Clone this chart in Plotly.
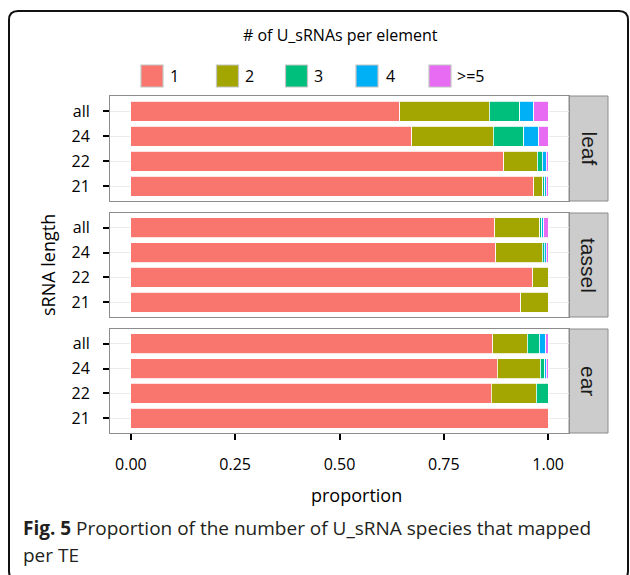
import plotly.graph_objects as go

W, H = 630, 575

facets = ["leaf", "tassel", "ear"]
lengths = ["21", "22", "24", "all"]
groups = ["1", "2", "3", "4", ">=5"]
colors = ["#F8766D", "#A3A500", "#00BF7D", "#00B0F6", "#E76BF3"]

# proportions per group, ordered as lengths (21, 22, 24, all)
leaf_g1 = [0.966, 0.894, 0.673, 0.644]
leaf_g2 = [0.021, 0.080, 0.196, 0.215]
leaf_g3 = [0.005, 0.012, 0.072, 0.073]
leaf_g4 = [0.004, 0.010, 0.036, 0.034]
leaf_g5 = [0.004, 0.004, 0.023, 0.034]

tassel_g1 = [0.934, 0.963, 0.874, 0.872]
tassel_g2 = [0.066, 0.037, 0.112, 0.108]
tassel_g3 = [None, None, 0.005, 0.005]
tassel_g4 = [None, None, 0.004, 0.005]
tassel_g5 = [None, None, 0.005, 0.010]

ear_g1 = [1.000, 0.864, 0.878, 0.867]
ear_g2 = [None, 0.107, 0.103, 0.083]
ear_g3 = [None, 0.029, 0.011, 0.029]
ear_g4 = [None, None, 0.004, 0.015]
ear_g5 = [None, None, 0.004, 0.006]

facet_data = {
    "leaf": [leaf_g1, leaf_g2, leaf_g3, leaf_g4, leaf_g5],
    "tassel": [tassel_g1, tassel_g2, tassel_g3, tassel_g4, tassel_g5],
    "ear": [ear_g1, ear_g2, ear_g3, ear_g4, ear_g5],
}

x_ticks = [0, 0.25, 0.5, 0.75, 1.0]
x_ticktext = ["0.00", "0.25", "0.50", "0.75", "1.00"]

FONT = "Open Sans"


def px(x):
    return x / W


def py(y):
    return 1 - y / H


panel_x = (110, 569)
strip_x = (569, 608)
panel_y = [(96, 201), (213, 317), (329, 433)]

fig = go.Figure()

for i, f in enumerate(facets):
    ax = "" if i == 0 else str(i + 1)
    for g, c, vals in zip(groups, colors, facet_data[f]):
        fig.add_trace(go.Bar(
            x=vals, y=lengths, orientation="h", name=g,
            marker=dict(color=c, line=dict(color="white", width=0.8)),
            xaxis="x" + ax, yaxis="y" + ax, showlegend=False,
        ))
    y0, y1 = panel_y[i]
    bottom = (i == len(facets) - 1)
    fig.layout["xaxis" + ax] = dict(
        domain=[px(panel_x[0]), px(panel_x[1])], anchor="y" + ax,
        range=[-0.05, 1.05], showgrid=False, zeroline=False,
        showline=True, mirror=True, linecolor="#8c8c8c", linewidth=1,
        tickvals=x_ticks, ticktext=x_ticktext,
        showticklabels=bottom, ticks="outside" if bottom else "",
        ticklen=6, tickwidth=1.5, tickcolor="black",
        tickfont=dict(family=FONT, size=16, color="black"),
        ticklabelstandoff=11,
    )
    fig.layout["yaxis" + ax] = dict(
        domain=[py(y1), py(y0)], anchor="x" + ax,
        type="category", categoryorder="array", categoryarray=lengths,
        range=[-0.6, 3.6], showgrid=True, gridcolor="#ebebeb", gridwidth=1,
        showline=True, mirror=True, linecolor="#8c8c8c", linewidth=1,
        ticks="outside", ticklen=6, tickwidth=1.5, tickcolor="black",
        tickfont=dict(family=FONT, size=16, color="black"),
        ticklabelstandoff=10,
    )

shapes = []
annotations = []

# facet strips
for i, f in enumerate(facets):
    y0, y1 = panel_y[i]
    shapes.append(dict(type="rect", xref="paper", yref="paper",
                       x0=px(strip_x[0]), x1=px(strip_x[1]), y0=py(y1), y1=py(y0),
                       fillcolor="#cccccc", line=dict(color="#8c8c8c", width=1), layer="below"))
    annotations.append(dict(xref="paper", yref="paper", x=px(589), y=py((y0 + y1) / 2),
                            text=f, textangle=90, showarrow=False,
                            font=dict(family="Liberation Sans", size=21, color="#1a1a1a"),
                            xanchor="center", yanchor="middle"))

# legend (manual)
annotations.append(dict(xref="paper", yref="paper", x=px(340), y=py(35),
                        text="# of U_sRNAs per element", showarrow=False,
                        font=dict(family=FONT, size=16, color="black"),
                        xanchor="center", yanchor="middle"))
key_x = [141, 216.5, 285.5, 356, 429]
label_x = [168, 243, 312, 384, 455]
for g, c, kx, lx in zip(groups, colors, key_x, label_x):
    shapes.append(dict(type="rect", xref="paper", yref="paper",
                       x0=px(kx), x1=px(kx + 22), y0=py(87), y1=py(65),
                       fillcolor=c, line=dict(color="#c4c4c4", width=1.2)))
    annotations.append(dict(xref="paper", yref="paper", x=px(lx), y=py(76),
                            text=g, showarrow=False,
                            font=dict(family=FONT, size=16, color="black"),
                            xanchor="left", yanchor="middle"))

# axis titles
annotations.append(dict(xref="paper", yref="paper", x=px(48), y=py(265),
                        text="sRNA length", textangle=-90, showarrow=False,
                        font=dict(family=FONT, size=18, color="black"),
                        xanchor="center", yanchor="middle"))
annotations.append(dict(xref="paper", yref="paper", x=px(356), y=py(495),
                        text="proportion", showarrow=False,
                        font=dict(family=FONT, size=18, color="black"),
                        xanchor="center", yanchor="middle"))

# caption
annotations.append(dict(xref="paper", yref="paper", x=px(21), y=py(528),
                        text="<b>Fig. 5</b> Proportion of the number of U_sRNA species that mapped",
                        showarrow=False, font=dict(family=FONT, size=19, color="#231f20"),
                        xanchor="left", yanchor="middle"))
annotations.append(dict(xref="paper", yref="paper", x=px(21), y=py(555),
                        text="per TE", showarrow=False,
                        font=dict(family=FONT, size=19, color="#231f20"),
                        xanchor="left", yanchor="middle"))

# outer rounded frame
x0, x1, y0, y1, r = 9, 628, 11, 580, 9
path = (f"M {px(x0)},{py(y0 + r)} "
        f"Q {px(x0)},{py(y0)} {px(x0 + r)},{py(y0)} "
        f"L {px(x1 - r)},{py(y0)} "
        f"Q {px(x1)},{py(y0)} {px(x1)},{py(y0 + r)} "
        f"L {px(x1)},{py(y1 - r)} "
        f"Q {px(x1)},{py(y1)} {px(x1 - r)},{py(y1)} "
        f"L {px(x0 + r)},{py(y1)} "
        f"Q {px(x0)},{py(y1)} {px(x0)},{py(y1 - r)} Z")
shapes.append(dict(type="path", xref="paper", yref="paper", path=path,
                   line=dict(color="#111111", width=2)))

fig.update_layout(
    width=W, height=H, margin=dict(l=0, r=0, t=0, b=0),
    paper_bgcolor="white", plot_bgcolor="white",
    barmode="stack", bargap=0.2, showlegend=False,
    shapes=shapes, annotations=annotations,
    font=dict(family=FONT),
)

fig.write_html("out.html")
